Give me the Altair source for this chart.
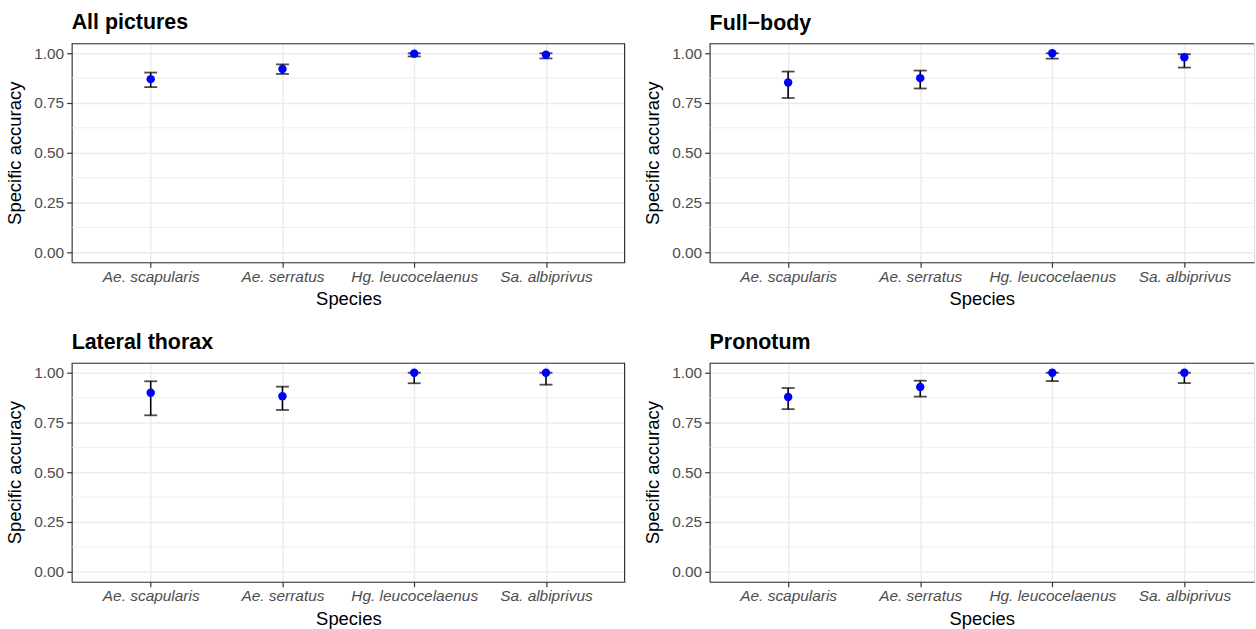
import altair as alt
import pandas as pd

panels = ["All pictures", "Full\u2212body", "Lateral thorax", "Pronotum"]
species = ["Ae. scapularis", "Ae. serratus", "Hg. leucocelaenus", "Sa. albiprivus"]

acc_all = [0.870, 0.921, 0.998, 0.992]
lo_all = [0.830, 0.896, 0.984, 0.974]
hi_all = [0.903, 0.944, 1.000, 1.000]

acc_full = [0.853, 0.875, 1.000, 0.980]
lo_full = [0.775, 0.823, 0.973, 0.928]
hi_full = [0.908, 0.913, 1.000, 0.995]

acc_lat = [0.899, 0.882, 1.000, 1.000]
lo_lat = [0.786, 0.813, 0.947, 0.940]
hi_lat = [0.957, 0.930, 1.000, 1.000]

acc_pro = [0.878, 0.928, 1.000, 1.000]
lo_pro = [0.817, 0.880, 0.958, 0.948]
hi_pro = [0.923, 0.960, 1.000, 1.000]

major_ticks = [0.0, 0.25, 0.5, 0.75, 1.0]
minor_grid = [0.125, 0.375, 0.625, 0.875]

series = [
    (acc_all, lo_all, hi_all),
    (acc_full, lo_full, hi_full),
    (acc_lat, lo_lat, hi_lat),
    (acc_pro, lo_pro, hi_pro),
]

rows = []
for p, (a, l, h) in zip(panels, series):
    for s, av, lv, hv in zip(species, a, l, h):
        rows.append({"panel": p, "species": s, "acc": av, "lo": lv, "hi": hv})
df = pd.DataFrame(rows)
minor_df = pd.DataFrame({"g": minor_grid})
one_df = pd.DataFrame({"k": [0]})

FONT = "Liberation Sans"
H = 220
BORDER = "#333333"


def panel_chart(name, width, padding, align, right_border):
    base = alt.Chart(df).transform_filter(alt.datum.panel == name)
    xenc = alt.X(
        "species:N",
        sort=species,
        scale=alt.Scale(type="point", padding=padding, align=align),
        axis=alt.Axis(
            title="Species",
            labelAngle=0,
            labelFontStyle="italic",
            labelColor="#4D4D4D",
            labelFontSize=15.5,
            labelFont=FONT,
            titleFont=FONT,
            titleFontSize=18.5,
            titleFontWeight="normal",
            titleColor="black",
            titlePadding=5,
            grid=True,
            gridColor="#EBEBEB",
            gridWidth=1.4,
            tickColor=BORDER,
            tickSize=5,
            tickWidth=1.2,
            labelPadding=2,
            domain=True,
            domainColor=BORDER,
            domainWidth=1.1,
        ),
    )
    yscale = alt.Scale(domain=[-0.05, 1.05], nice=False, zero=False)
    yaxis = alt.Axis(
        title="Specific accuracy",
        values=major_ticks,
        format=".2f",
        labelColor="#4D4D4D",
        labelFontSize=15.5,
        labelFont=FONT,
        titleFont=FONT,
        titleFontSize=18.5,
        titleFontWeight="normal",
        titleColor="black",
        titlePadding=9,
        grid=True,
        gridColor="#EBEBEB",
        gridWidth=1.4,
        tickColor=BORDER,
        tickSize=5,
        tickWidth=1.2,
        labelPadding=3,
        domain=True,
        domainColor=BORDER,
        domainWidth=1.1,
    )
    minor = alt.Chart(minor_df).mark_rule(color="#EBEBEB", strokeWidth=0.8).encode(
        y=alt.Y("g:Q", scale=yscale, axis=yaxis)
    )
    rule = base.mark_rule(color="black", strokeWidth=1.6).encode(
        x=xenc, y=alt.Y("lo:Q", scale=yscale, axis=yaxis), y2="hi:Q"
    )
    cap_lo = base.mark_tick(color="black", size=13, thickness=1.8).encode(
        x=xenc, y=alt.Y("lo:Q", scale=yscale, axis=yaxis)
    )
    cap_hi = base.mark_tick(color="black", size=13, thickness=1.8).encode(
        x=xenc, y=alt.Y("hi:Q", scale=yscale, axis=yaxis)
    )
    pts = base.mark_circle(color="blue", size=72, opacity=1).encode(
        x=xenc, y=alt.Y("acc:Q", scale=yscale, axis=yaxis)
    )
    top_border = alt.Chart(one_df).mark_rule(color=BORDER, strokeWidth=1.1).encode(
        x=alt.value(0), x2=alt.value(width), y=alt.value(0.5)
    )
    layers = [minor, rule, cap_lo, cap_hi, pts, top_border]
    if right_border:
        layers.append(
            alt.Chart(one_df).mark_rule(color=BORDER, strokeWidth=1.1).encode(
                x=alt.value(width - 0.5), y=alt.value(0), y2=alt.value(H)
            )
        )
    return alt.layer(*layers).properties(
        width=width,
        height=H,
        title=alt.TitleParams(
            name,
            anchor="start",
            frame="group",
            font=FONT,
            fontSize=21.5,
            fontWeight="bold",
            color="black",
            offset=9,
        ),
    )


top = alt.hconcat(
    panel_chart(panels[0], 556, 0.6, 0.5, True),
    panel_chart(panels[1], 547, 0.561, 0.53, False),
    spacing=16,
)
bottom = alt.hconcat(
    panel_chart(panels[2], 556, 0.6, 0.5, True),
    panel_chart(panels[3], 547, 0.561, 0.53, False),
    spacing=16,
)
chart = (
    alt.vconcat(top, bottom, spacing=22)
    .properties(padding={"left": 5, "top": 10, "right": 0, "bottom": 0})
    .configure_view(strokeWidth=0)
    .configure(background="white")
)

chart.save("out.html", embed_options={"renderer": "svg", "actions": False})
